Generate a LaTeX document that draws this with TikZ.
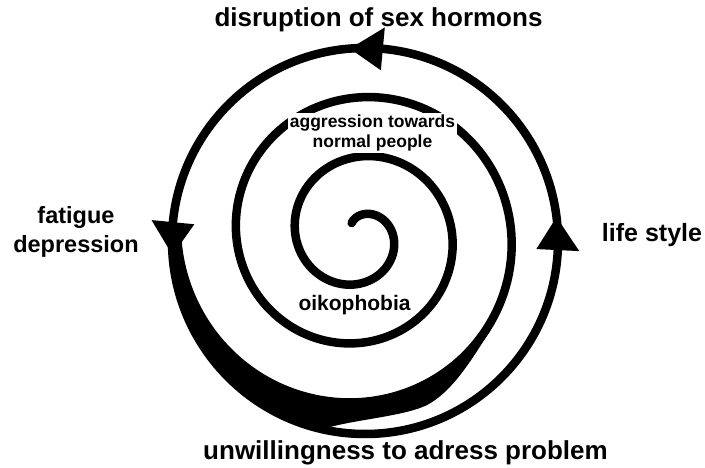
\documentclass[tikz,border=0pt]{standalone}
\usepackage{fontspec}
\setmainfont{Liberation Sans}
\usetikzlibrary{calc}
\tikzset{
  lbl/.style 2 args={font=\bfseries\fontsize{#1}{#2}\selectfont, inner sep=2pt, align=center},
}
\begin{document}
\begin{tikzpicture}[x=1pt,y=-1pt,line join=round]
  \def\cx{359}% spiral centre
  \def\cy{235}
  \def\R{193}% outer cycle
  \useasboundingbox (0,0) rectangle (705,468);
  \coordinate (O) at (365,241);
  % thick part where the spiral runs into the cycle
  \fill (490.5,330.6) .. controls (478,348) and (455,392) .. (425,406)
    .. controls (400,417) and (350,420) .. (322.6,429.3)
    arc[start angle=102.7, end angle=180, radius=\R]
    -- plot[domain=898:756, samples=60, smooth, variable=\t] ({\cx+(34+0.16444*\t)*cos(\t)}, {\cy+(34+0.16444*\t)*sin(\t)}) -- cycle;
  % spiral
  \draw[line width=8.5, line cap=round] plot[domain=-121.5:898, samples=400, smooth, variable=\t] ({\cx+(34+0.16444*\t)*cos(\t)}, {\cy+(34+0.16444*\t)*sin(\t)});
  % cycle with its three heads
  \draw[line width=8.5] (O) circle[radius=\R];
  \foreach \a in {275.3,185.6,2.7}
    \fill ($(O)+(\a-9.8:\R)$) -- ($(O)+(\a:\R-21.5)$) -- ($(O)+(\a:\R+21.5)$) -- cycle;
  \node[lbl={26}{31}, anchor=base] (sex) at (378.5,27) {disruption of sex hormons};
  \node[lbl={23.5}{28.5}] (fatigue) at (76,231.8) {fatigue\\depression};
  \node[lbl={25}{30}, anchor=base] (life) at (652,241) {life style};
  \node[lbl={17.5}{20}, fill=white] (aggr) at (372.5,133) {aggression towards\\normal people};
  \node[lbl={21}{25}, anchor=base] (oiko) at (354.5,310) {oikophobia};
  \node[lbl={26}{31}, anchor=base] (unwill) at (405.5,459) {unwillingness to adress problem};
\end{tikzpicture}
\end{document}
